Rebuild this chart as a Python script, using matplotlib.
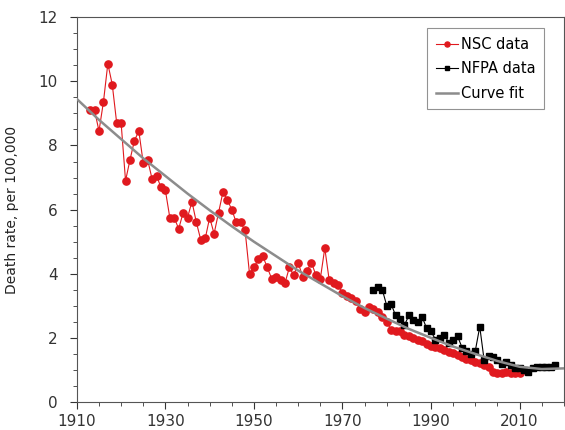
import matplotlib
matplotlib.use("agg")
import matplotlib.pyplot as plt
from matplotlib.ticker import MultipleLocator

# NSC data (red), 1913 - 2010
nsc_years = list(range(1913, 2011))
nsc_rate = [9.1, 9.1, 8.45, 9.35, 10.55, 9.9, 8.7, 8.7, 6.9, 7.55,
            8.15, 8.45, 7.45, 7.55, 6.95, 7.05, 6.7, 6.6, 5.75, 5.75,
            5.4, 5.9, 5.75, 6.25, 5.6, 5.05, 5.1, 5.75, 5.25, 5.9,
            6.55, 6.3, 6.0, 5.6, 5.6, 5.35, 4.0, 4.2, 4.45, 4.55,
            4.2, 3.85, 3.9, 3.8, 3.7, 4.2, 3.95, 4.35, 3.9, 4.1,
            4.35, 3.95, 3.85, 4.8, 3.8, 3.7, 3.65, 3.4, 3.3, 3.25,
            3.15, 2.9, 2.8, 2.95, 2.9, 2.8, 2.65, 2.5, 2.25, 2.2,
            2.2, 2.1, 2.05, 2.0, 1.95, 1.9, 1.8, 1.75, 1.72, 1.68,
            1.62, 1.57, 1.52, 1.47, 1.4, 1.35, 1.3, 1.26, 1.22, 1.15,
            1.1, 0.95, 0.92, 0.92, 0.95, 0.92, 0.9, 0.9]

# NFPA data (black), 1977 - 2018
nfpa_years = list(range(1977, 2019))
nfpa_rate = [3.5, 3.6, 3.5, 3.0, 3.05, 2.7, 2.6, 2.4, 2.7, 2.55,
             2.5, 2.65, 2.3, 2.2, 1.95, 2.0, 2.1, 1.85, 1.95, 2.05,
             1.7, 1.6, 1.5, 1.6, 2.35, 1.3, 1.45, 1.4, 1.3, 1.2,
             1.25, 1.15, 1.05, 1.05, 1.0, 0.95, 1.05, 1.1, 1.1, 1.1,
             1.1, 1.15]

fit_years = list(range(1910, 2021, 5))
fit_rate = [9.45, 8.8, 8.2, 7.6, 7.05, 6.5, 5.98, 5.48, 5.0, 4.55,
            4.1, 3.7, 3.3, 2.93, 2.6, 2.28, 2.0, 1.73, 1.5, 1.28,
            1.1, 1.03, 1.05]

fig = plt.figure(figsize=(5.65, 4.3), dpi=100)
ax = fig.add_axes([0.136, 0.065, 0.862, 0.895])

ax.plot(nsc_years, nsc_rate, marker='o', color='#e0191e', markersize=5.2,
        linewidth=0.8, label='NSC data', zorder=3)
ax.plot(nfpa_years, nfpa_rate, marker='s', color='black', markersize=4.8,
        linewidth=0.8, label='NFPA data', zorder=3)
ax.plot(fit_years, fit_rate, color='#8c8c8c', linewidth=1.8,
        label='Curve fit', zorder=4)

ax.set_xlim(1910, 2020)
ax.set_ylim(0, 12)
ax.set_xticks([1910, 1930, 1950, 1970, 1990, 2010])
ax.set_yticks([0, 2, 4, 6, 8, 10, 12])
ax.xaxis.set_minor_locator(MultipleLocator(5))
ax.yaxis.set_minor_locator(MultipleLocator(0.5))
ax.tick_params(which='major', length=5, labelsize=11, colors='#333333')
ax.tick_params(axis='y', which='major', pad=9)
ax.tick_params(which='minor', length=3, color='#333333')
ax.set_ylabel('Death rate, per 100,000', fontsize=10, color='#222222',
              labelpad=14)

for s in ax.spines.values():
    s.set_color('#555555')

leg = ax.legend(loc='upper right', bbox_to_anchor=(0.96, 0.972),
                fontsize=10.5, fancybox=False, handlelength=1.5,
                handletextpad=0.2, borderpad=0.6, labelspacing=0.65,
                markerscale=0.7, borderaxespad=0.0)
leg.get_frame().set_edgecolor('#777777')
leg.get_frame().set_linewidth(0.8)

plt.savefig('out.png', dpi=100)
